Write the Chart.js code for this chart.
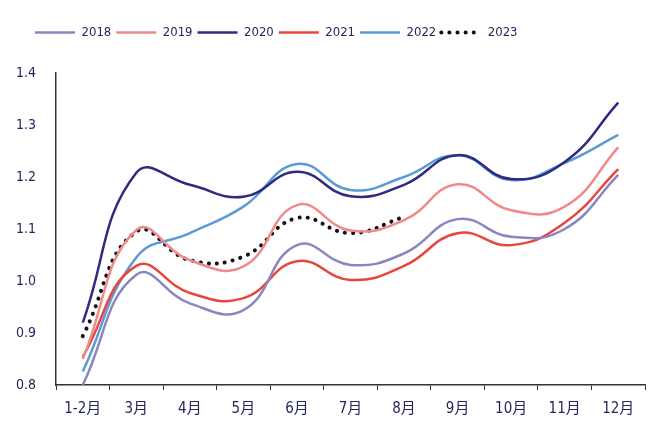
<!DOCTYPE html>
<html>
<head>
<meta charset="utf-8">
<script src="https://cdn.jsdelivr.net/npm/chart.js@4/dist/chart.umd.min.js"></script>
<style>
  html, body { margin: 0; padding: 0; background: #fff; }
  #wrap { width: 652px; height: 427px; }
</style>
</head>
<body>
<div id="wrap"><canvas id="seasonChart"></canvas></div>
<script>
const months = ["1-2月", "3月", "4月", "5月", "6月", "7月", "8月", "9月", "10月", "11月", "12月"];
const yTicks = [0.8, 0.9, 1.0, 1.1, 1.2, 1.3, 1.4];

const y2018 = [0.80, 1.012, 0.957, 0.944, 1.069, 1.031, 1.053, 1.119, 1.085, 1.100, 1.204];
const y2019 = [0.85, 1.098, 1.040, 1.028, 1.146, 1.097, 1.117, 1.186, 1.136, 1.143, 1.257];
const y2020 = [0.92, 1.208, 1.185, 1.162, 1.210, 1.163, 1.185, 1.242, 1.196, 1.229, 1.343];
const y2021 = [0.854, 1.029, 0.977, 0.967, 1.038, 1.002, 1.029, 1.092, 1.069, 1.112, 1.215];
const y2022 = [0.826, 1.045, 1.092, 1.143, 1.225, 1.175, 1.200, 1.242, 1.194, 1.227, 1.281];
const y2023 = [0.894, 1.095, 1.040, 1.047, 1.121, 1.092, 1.123];

const textColor = "#26265f";
const fontFamily = "'Liberation Sans Narrow', 'DejaVu Sans Condensed', 'Noto Sans CJK SC', sans-serif";

function series(label, data, color, extra) {
	return Object.assign({
		label: label,
		data: data,
		borderColor: color,
		backgroundColor: color,
		borderWidth: 2.5,
		pointRadius: 0,
		tension: 0.45,
		fill: false,
	}, extra || {});
}

// legend row: start a little further right and leave a gap under it
const legendSpacing = {
	id: "legendSpacing",
	afterInit(chart) {
		const legend = chart.legend;
		const fit = legend.fit;
		legend.fit = function () {
			fit.call(this);
			this.height += 24;
		};
	},
	afterLayout(chart) {
		chart.legend.left = 30;
	},
};

// legend swatches take line style from the dataset, so 2023 stays dotted
function legendLabels(chart) {
	const items = Chart.defaults.plugins.legend.labels.generateLabels(chart);
	return items.map((item) => {
		const ds = chart.data.datasets[item.datasetIndex];
		item.lineDash = ds.borderDash || [];
		item.lineCap = ds.borderCapStyle || "butt";
		item.lineWidth = ds.borderWidth;
		item.strokeStyle = ds.borderColor;
		return item;
	});
}

const ctx = document.getElementById("seasonChart").getContext("2d");

new Chart(ctx, {
	type: "line",
	data: {
		labels: months,
		datasets: [
			series("2018", y2018, "#8a86c2"),
			series("2019", y2019, "#f08a8a"),
			series("2020", y2020, "#2e2b80"),
			series("2021", y2021, "#e8463c"),
			series("2022", y2022, "#5b9bd5"),
			series("2023", y2023, "#111111", {
				borderWidth: 4,
				borderDash: [0.1, 8],
				borderCapStyle: "round",
			}),
		],
	},
	options: {
		responsive: true,
		maintainAspectRatio: false,
		animation: false,
		layout: { padding: { left: 15, right: 7, top: 21, bottom: 0 } },
		plugins: {
			tooltip: { enabled: false },
			legend: {
				position: "top",
				align: "start",
				labels: {
					usePointStyle: true,
					pointStyle: "line",
					pointStyleWidth: 40,
					boxWidth: 40,
					padding: 5,
					color: textColor,
					font: { family: fontFamily, size: 13 },
					generateLabels: legendLabels,
				},
			},
		},
		scales: {
			x: {
				offset: true,
				afterFit(axis) {
					axis.height = 42;
				},
				grid: {
					offset: true,
					drawOnChartArea: false,
					tickLength: 5,
					color: "#333",
				},
				border: { display: true, color: "#333", width: 1.5 },
				ticks: {
					color: textColor,
					padding: 10,
					maxRotation: 0,
					font: { family: fontFamily, size: 15 },
				},
			},
			y: {
				min: 0.8,
				max: 1.4,
				afterBuildTicks(axis) {
					axis.ticks = yTicks.map((v) => ({ value: v }));
				},
				afterFit(axis) {
					axis.width = 41;
				},
				grid: { drawOnChartArea: false, drawTicks: false },
				border: { display: true, color: "#333", width: 1.5 },
				ticks: {
					color: textColor,
					padding: 20,
					font: { family: fontFamily, size: 14 },
					callback: (v) => Number(v).toFixed(1),
				},
			},
		},
	},
	plugins: [legendSpacing],
});
</script>
</body>
</html>
